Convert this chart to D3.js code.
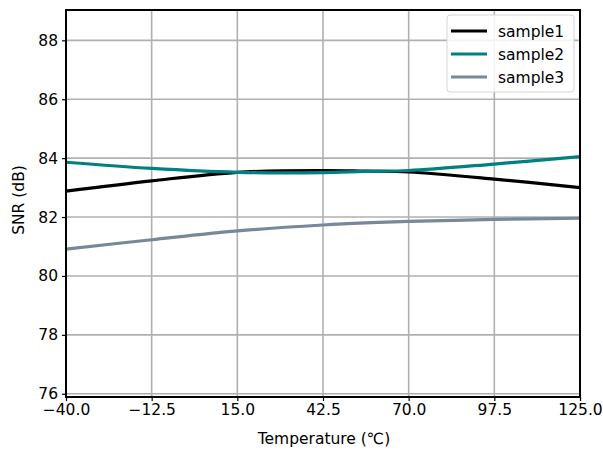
<!DOCTYPE html>
<html><head><meta charset="utf-8">
<script src="https://cdn.jsdelivr.net/npm/d3@7"></script>
<style>body{margin:0;background:#fff}svg{display:block}text{font-family:"DejaVu Sans",sans-serif}</style>
</head><body><svg id="c" width="603" height="451"></svg>
<script>
const temps = [-40, -12.5, 15, 42.5, 56, 70, 97.5, 125];
const sample1 = [82.88, 83.23, 83.52, 83.58, 83.56, 83.53, 83.29, 83.00];
const sample2 = [83.86, 83.65, 83.52, 83.51, 83.55, 83.58, 83.80, 84.05];
const sample3 = [80.91, 81.23, 81.53, 81.73, 81.80, 81.85, 81.92, 81.96];
const xTicks = [-40, -12.5, 15, 42.5, 70, 97.5, 125];
const yTicks = [76, 78, 80, 82, 84, 86, 88];
const seriesNames = ["sample1", "sample2", "sample3"];
const seriesColors = ["#000000", "#008080", "#778899"];
const seriesData = [sample1, sample2, sample3];

const FS = 15.5;
const svg = d3.select("#c");
const L = 66, R = 580, T = 10, B = 397;
const x = d3.scaleLinear().domain([-40, 125]).range([L, R]);
const y = d3.scaleLinear().domain([75.89, 89.03]).range([B, T]);

// grid
svg.append("g").selectAll("line").data(xTicks).join("line")
  .attr("x1", d => x(d)).attr("x2", d => x(d)).attr("y1", T).attr("y2", B)
  .attr("stroke", "#b0b0b0").attr("stroke-width", 1.6);
svg.append("g").selectAll("line").data(yTicks).join("line")
  .attr("y1", d => y(d)).attr("y2", d => y(d)).attr("x1", L).attr("x2", R)
  .attr("stroke", "#b0b0b0").attr("stroke-width", 1.6);

// lines
const line = d3.line().curve(d3.curveCatmullRom.alpha(0.5));
seriesData.forEach((s, i) => {
  svg.append("path").attr("fill", "none").attr("stroke", seriesColors[i])
    .attr("stroke-width", 3.2)
    .attr("d", line(temps.map((t, j) => [x(t), y(s[j])])));
});

// axes
const xAxis = d3.axisBottom(x).tickValues(xTicks).tickFormat(d => d3.format(".1f")(d).replace("-", "\u2212")).tickSize(4).tickPadding(3);
const yAxis = d3.axisLeft(y).tickValues(yTicks).tickFormat(d3.format("d")).tickSize(4).tickPadding(4);
const gx = svg.append("g").attr("transform", `translate(0,${B})`).call(xAxis);
const gy = svg.append("g").attr("transform", `translate(${L},0)`).call(yAxis);
[gx, gy].forEach(g => {
  g.select(".domain").remove();
  g.selectAll("text").attr("font-size", FS).attr("fill", "#000").attr("font-family", "DejaVu Sans");
  g.selectAll("line").attr("stroke", "#000").attr("stroke-width", 1.2);
});

// frame
svg.append("rect").attr("x", L).attr("y", T).attr("width", R - L).attr("height", B - T)
  .attr("fill", "none").attr("stroke", "#000").attr("stroke-width", 2);

// labels
svg.append("text").attr("x", 324).attr("y", 444).attr("text-anchor", "middle")
  .attr("font-size", FS).text("Temperature (\u2103)");
svg.append("text").attr("transform", `translate(24,200) rotate(-90)`)
  .attr("text-anchor", "middle").attr("font-size", FS).text("SNR (dB)");

// legend
const lg = svg.append("g");
lg.append("rect").attr("x", 447).attr("y", 15).attr("width", 127).attr("height", 77)
  .attr("rx", 3).attr("fill", "#fff").attr("fill-opacity", 0.85)
  .attr("stroke", "#d5d5d5").attr("stroke-width", 1);
seriesNames.forEach((n, i) => {
  const yy = 31 + i * 23;
  lg.append("line").attr("x1", 451).attr("x2", 487).attr("y1", yy).attr("y2", yy)
    .attr("stroke", seriesColors[i]).attr("stroke-width", 3.2);
  lg.append("text").attr("x", 498).attr("y", yy + 5.5).attr("font-size", FS).text(n);
});
</script></body></html>
